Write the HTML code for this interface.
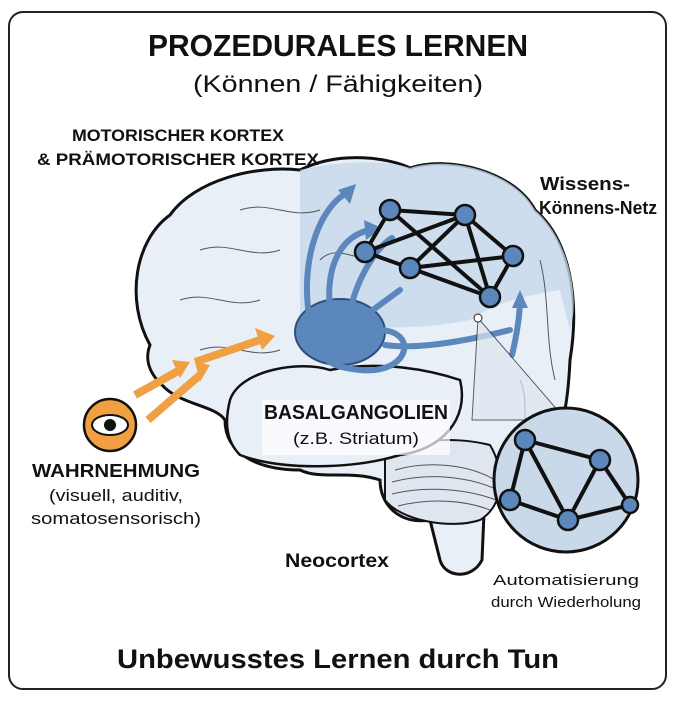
<!DOCTYPE html>
<html><head><meta charset="utf-8"><style>
html,body{margin:0;padding:0;background:#fff;}
body{width:675px;height:704px;overflow:hidden;font-family:"Liberation Sans",sans-serif;}
</style></head><body>
<svg width="675" height="704" viewBox="0 0 675 704" xmlns="http://www.w3.org/2000/svg">
<rect x="9" y="12" width="657" height="677" rx="14" fill="#fff" stroke="#222" stroke-width="2"/>
<g font-family="Liberation Sans, sans-serif" text-anchor="middle" fill="#111">
<text x="338" y="56" font-size="31" font-weight="bold" textLength="380" lengthAdjust="spacingAndGlyphs">PROZEDURALES LERNEN</text>
<text x="338" y="92" font-size="24" textLength="290" lengthAdjust="spacingAndGlyphs">(Können / Fähigkeiten)</text>
</g>
<!-- brain -->
<path d="M150,345 C125,300 135,240 170,215 C195,180 255,165 300,170 C340,150 390,158 410,168 C450,155 515,172 535,210 C570,240 580,300 570,360 C568,400 565,430 545,450 C525,470 505,480 485,490 L482,560 C472,580 445,578 440,560 L430,520 C400,525 380,505 380,480 C350,470 320,480 300,470 C260,470 225,455 225,420 C215,405 180,405 162,385 C148,372 145,358 150,345 Z" fill="#e9eff7" stroke="#111" stroke-width="3"/>
<path d="M300,170 C340,160 390,160 410,168 C450,155 515,172 535,210 C570,240 580,300 570,330 L560,290 C530,295 500,300 470,320 C420,330 360,330 300,320 Z" fill="#c7d8ea" opacity="0.8"/>
<path d="M385,460 C400,440 450,435 490,445 C505,470 505,505 480,520 C450,530 400,520 385,500 Z" fill="#dfe6ef" stroke="#111" stroke-width="2"/>
<g stroke="#555" fill="none" stroke-width="1">
<path d="M395,470 C430,460 470,465 495,480"/><path d="M392,482 C430,472 470,477 498,490"/><path d="M392,494 C430,485 470,490 496,500"/><path d="M398,506 C430,498 465,500 490,510"/>
<path d="M200,250 C230,240 250,260 280,250"/><path d="M180,300 C210,290 230,310 260,300"/><path d="M240,210 C270,200 290,220 320,210"/><path d="M320,260 C340,240 360,270 380,250"/><path d="M200,350 C230,340 250,360 280,350"/>
<path d="M540,260 C550,300 545,340 555,380"/><path d="M520,380 C530,400 520,430 530,440"/>
</g>
<path d="M230,400 C240,370 300,360 330,370 C380,360 430,370 460,380 C470,420 440,450 400,455 C350,470 280,470 240,455 C225,440 225,420 230,400 Z" fill="#e9eff7" stroke="#111" stroke-width="2.5"/>
<rect x="262" y="400" width="188" height="55" fill="#fff" opacity="0.7"/>
<!-- basal ganglia -->
<ellipse cx="340" cy="332" rx="45" ry="33" fill="#5b87bd" stroke="#2d4f7c" stroke-width="2"/>
<g stroke="#5b87bd" stroke-width="6" fill="none" stroke-linecap="round">
<path d="M310,320 C300,270 315,210 348,192"/><path d="M330,310 C325,260 345,235 370,230"/><path d="M350,310 C360,270 380,245 392,238"/>
<path d="M400,290 L362,318"/><path d="M378,330 C420,330 410,375 360,370 C330,367 325,360 325,352"/>
<path d="M385,345 C420,350 470,340 510,330"/><path d="M512,355 C518,330 520,310 520,300"/>
</g>
<g fill="#5b87bd"><polygon points="356,184 338,190 350,204"/><polygon points="382,228 364,220 366,240"/><polygon points="354,324 372,320 360,308"/><polygon points="320,346 332,344 326,358"/><polygon points="520,290 512,308 528,308"/></g>
<!-- network -->
<g stroke="#111" stroke-width="4"><line x1="390" y1="210" x2="465" y2="215"/><line x1="390" y1="210" x2="365" y2="252"/><line x1="390" y1="210" x2="490" y2="297"/><line x1="465" y1="215" x2="410" y2="268"/><line x1="465" y1="215" x2="513" y2="256"/><line x1="465" y1="215" x2="490" y2="297"/><line x1="410" y1="268" x2="490" y2="297"/><line x1="365" y1="252" x2="410" y2="268"/><line x1="365" y1="252" x2="465" y2="215"/><line x1="410" y1="268" x2="513" y2="256"/><line x1="513" y1="256" x2="490" y2="297"/></g>
<g fill="#5b87bd" stroke="#111" stroke-width="2.5"><circle cx="390" cy="210" r="10"/><circle cx="465" cy="215" r="10"/><circle cx="365" cy="252" r="10"/><circle cx="410" cy="268" r="10"/><circle cx="513" cy="256" r="10"/><circle cx="490" cy="297" r="10"/></g>
<!-- zoom -->
<polygon points="478,318 472,420 566,420" fill="#dde6f0" opacity="0.7" stroke="#222"/>
<circle cx="478" cy="318" r="4" fill="#fff" stroke="#222"/>
<circle cx="566" cy="480" r="72" fill="#c9d9ea" stroke="#111" stroke-width="3"/>
<g stroke="#111" stroke-width="4"><line x1="525" y1="440" x2="510" y2="500"/><line x1="525" y1="440" x2="600" y2="460"/><line x1="525" y1="440" x2="568" y2="520"/><line x1="510" y1="500" x2="568" y2="520"/><line x1="600" y1="460" x2="568" y2="520"/><line x1="600" y1="460" x2="630" y2="505"/><line x1="568" y1="520" x2="630" y2="505"/></g>
<g fill="#5b87bd" stroke="#111" stroke-width="2.5"><circle cx="525" cy="440" r="10"/><circle cx="600" cy="460" r="10"/><circle cx="510" cy="500" r="10"/><circle cx="568" cy="520" r="10"/><circle cx="630" cy="505" r="8"/></g>
<!-- eye & orange arrows -->
<g stroke="#f0a043" stroke-width="8" fill="none"><path d="M135,395 L180,370"/><path d="M148,420 L200,375"/><path d="M195,362 L260,340"/></g>
<g fill="#f0a043"><polygon points="190,362 172,360 180,378"/><polygon points="210,365 195,362 200,382"/><polygon points="275,336 255,328 262,350"/></g>
<circle cx="110" cy="425" r="26" fill="#f0a043" stroke="#111" stroke-width="2.5"/>
<ellipse cx="110" cy="425" rx="18" ry="10" fill="#fff" stroke="#111" stroke-width="2"/>
<circle cx="110" cy="425" r="6" fill="#111"/>
<g font-family="Liberation Sans, sans-serif" fill="#111" text-anchor="middle">
<text x="178" y="141" font-size="17" font-weight="bold" textLength="212" lengthAdjust="spacingAndGlyphs">MOTORISCHER KORTEX</text>
<text x="178" y="165" font-size="17" font-weight="bold" textLength="282" lengthAdjust="spacingAndGlyphs">&amp; PRÄMOTORISCHER KORTEX</text>
<text x="585" y="190" font-size="18" font-weight="bold" textLength="90" lengthAdjust="spacingAndGlyphs">Wissens-</text>
<text x="598" y="214" font-size="18" font-weight="bold" textLength="118" lengthAdjust="spacingAndGlyphs">Könnens-Netz</text>
<text x="356" y="419" font-size="20" font-weight="bold" textLength="184" lengthAdjust="spacingAndGlyphs">BASALGANGOLIEN</text>
<text x="356" y="444" font-size="17" textLength="126" lengthAdjust="spacingAndGlyphs">(z.B. Striatum)</text>
<text x="116" y="477" font-size="18" font-weight="bold" textLength="168" lengthAdjust="spacingAndGlyphs">WAHRNEHMUNG</text>
<text x="116" y="501" font-size="17" textLength="134" lengthAdjust="spacingAndGlyphs">(visuell, auditiv,</text>
<text x="116" y="524" font-size="17" textLength="170" lengthAdjust="spacingAndGlyphs">somatosensorisch)</text>
<text x="337" y="567" font-size="19" font-weight="bold" textLength="104" lengthAdjust="spacingAndGlyphs">Neocortex</text>
<text x="566" y="585" font-size="15" textLength="146" lengthAdjust="spacingAndGlyphs">Automatisierung</text>
<text x="566" y="607" font-size="15" textLength="150" lengthAdjust="spacingAndGlyphs">durch Wiederholung</text>
<text x="338" y="668" font-size="27" font-weight="bold" textLength="442" lengthAdjust="spacingAndGlyphs">Unbewusstes Lernen durch Tun</text>
</g>
</svg>
</body></html>
